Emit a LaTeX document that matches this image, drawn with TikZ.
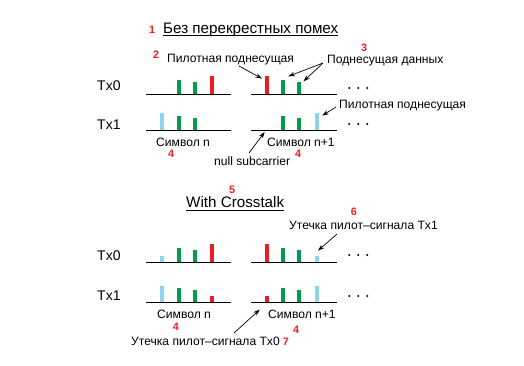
\documentclass[tikz,border=0pt]{standalone}
\usepackage{fontspec}
\setmainfont{Liberation Sans}
\usetikzlibrary{arrows.meta}
\definecolor{cred}{RGB}{237,28,36}
\definecolor{cgreen}{RGB}{0,158,72}
\definecolor{cblue}{RGB}{140,212,242}
\begin{document}
\begin{tikzpicture}[x=1pt,y=-1pt,
  barnode/.style={rectangle,draw=none,inner sep=0pt,minimum width=4.5pt,anchor=south},
  lbl/.style={font=\fontsize{12.1}{14}\selectfont,inner sep=0pt,anchor=base west},
  ttl/.style={font=\fontsize{15.2}{18}\selectfont,inner sep=0pt,anchor=base west},
  txl/.style={font=\fontsize{14}{16}\selectfont,inner sep=0pt,anchor=base west},
  num/.style={font=\fontsize{10.8}{12}\selectfont\bfseries,text=cred,inner sep=0pt,anchor=base west},
  axis/.style={line width=0.9pt},
  arr/.style={line width=0.7pt,-{Stealth[length=6.5pt,width=4.5pt]}}]
\path[use as bounding box] (0,0) rectangle (524,365);

% ---------- titles ----------
\node[num] (n1) at (149,33.3) {1};
\node[ttl] (t1) at (163,33.3) {Без перекрестных помех};
\draw[line width=0.6pt] ([yshift=-1.7pt]t1.base west) -- ([yshift=-1.7pt]t1.base east);
\node[num] (n5) at (229,193.3) {5};
\node[ttl] (t2) at (186,207.5) {With Crosstalk};
\draw[line width=0.6pt] ([yshift=-2.5pt]t2.base west) -- ([yshift=-2.5pt]t2.base east);

% ---------- Tx labels ----------
\node[txl] (tx0a) at (97,90) {Tx0};
\node[txl] (tx1a) at (97,129.5) {Tx1};
\node[txl] (tx0b) at (97,260) {Tx0};
\node[txl] (tx1b) at (97,300) {Tx1};

% ---------- axes ----------
\foreach \yy in {94,130,262,302}{
  \draw[axis] (146,\yy) -- (231,\yy);
  \draw[axis] (251,\yy) -- (337,\yy);
}
% ---------- dots ----------
\foreach \yy in {88,124,255,296}
  \foreach \xx in {349.3,358.3,367.3}
    \fill (\xx,\yy) circle (1.15pt);

% ---------- bars: upper, Tx0 ----------
\node[barnode,fill=cgreen,minimum height=14pt] (a0n2) at (179,94) {};
\node[barnode,fill=cgreen,minimum height=12pt] (a0n3) at (195,94) {};
\node[barnode,fill=cred,minimum height=18pt] (a0n4) at (212,94) {};
\node[barnode,fill=cred,minimum height=18pt] (a0m1) at (267,94) {};
\node[barnode,fill=cgreen,minimum height=14pt] (a0m2) at (283,94) {};
\node[barnode,fill=cgreen,minimum height=12pt] (a0m3) at (299,94) {};
% upper, Tx1
\node[barnode,fill=cblue,minimum height=17pt] (a1n1) at (162,130) {};
\node[barnode,fill=cgreen,minimum height=14pt] (a1n2) at (179,130) {};
\node[barnode,fill=cgreen,minimum height=12pt] (a1n3) at (195,130) {};
\node[barnode,fill=cgreen,minimum height=14pt] (a1m2) at (283,130) {};
\node[barnode,fill=cgreen,minimum height=12pt] (a1m3) at (299,130) {};
\node[barnode,fill=cblue,minimum height=17pt] (a1m4) at (317,130) {};
\coordinate (nullsc) at (267,130);

% ---------- bars: lower, Tx0 ----------
\node[barnode,fill=cblue,minimum height=6pt] (b0n1) at (162,262) {};
\node[barnode,fill=cgreen,minimum height=14pt] (b0n2) at (179,262) {};
\node[barnode,fill=cgreen,minimum height=12pt] (b0n3) at (195,262) {};
\node[barnode,fill=cred,minimum height=18pt] (b0n4) at (212,262) {};
\node[barnode,fill=cred,minimum height=18pt] (b0m1) at (267,262) {};
\node[barnode,fill=cgreen,minimum height=14pt] (b0m2) at (283,262) {};
\node[barnode,fill=cgreen,minimum height=12pt] (b0m3) at (299,262) {};
\node[barnode,fill=cblue,minimum height=6pt] (b0m4) at (317,262) {};
% lower, Tx1
\node[barnode,fill=cblue,minimum height=16pt] (b1n1) at (162,302) {};
\node[barnode,fill=cgreen,minimum height=14pt] (b1n2) at (179,302) {};
\node[barnode,fill=cgreen,minimum height=12pt] (b1n3) at (195,302) {};
\node[barnode,fill=cred,minimum height=6pt] (b1n4) at (212,302) {};
\node[barnode,fill=cred,minimum height=6pt] (b1m1) at (267,302) {};
\node[barnode,fill=cgreen,minimum height=14pt] (b1m2) at (283,302) {};
\node[barnode,fill=cgreen,minimum height=12pt] (b1m3) at (299,302) {};
\node[barnode,fill=cblue,minimum height=16pt] (b1m4) at (317,302) {};

% ---------- upper labels ----------
\node[num] (n2) at (153,58) {2};
\node[lbl] (pilA) at (167,62.5) {Пилотная поднесущая};
\node[num] (n3) at (361,51.7) {3};
\node[lbl] (data) at (327,63) {Поднесущая данных};
\node[lbl] (pilB) at (339,108) {Пилотная поднесущая};
\node[lbl] (symA) at (156,146.7) {Символ n};
\node[lbl] (symB) at (267,146.7) {Символ n+1};
\node[num] (n4a) at (168,157.5) {4};
\node[num] (n4b) at (295,157.3) {4};
\node[lbl] (null) at (214,165) {null subcarrier};

% ---------- lower labels ----------
\node[num] (n6) at (350.7,215) {6};
\node[lbl] (leak1) at (289,229) {Утечка пилот–сигнала Tx1};
\node[lbl] (symC) at (157,318.3) {Символ n};
\node[lbl] (symD) at (268,318.3) {Символ n+1};
\node[num] (n4c) at (172.7,330.7) {4};
\node[num] (n4d) at (293,333) {4};
\node[lbl] (leak0) at (131,345) {Утечка пилот–сигнала Tx0};
\node[num] (n7) at (282.7,345) {7};

% ---------- arrows ----------
\draw[arr] ([xshift=72pt,yshift=-3.5pt]pilA.base west) -- ([xshift=-2.5pt,yshift=-3pt]a0m1.north west);
\draw[arr] ([xshift=-4pt]data.base west) -- ([xshift=3pt,yshift=3.3pt]a0m2.north east);
\draw[arr] ([xshift=-4pt]data.base west) -- ([xshift=2pt,yshift=0.3pt]a0m3.north east);
\draw[arr] ([xshift=-3pt,yshift=1pt]pilB.base west) -- ([xshift=2.8pt,yshift=-3pt]a1m4.north east);
\draw[arr] ([xshift=35pt,yshift=12pt]null.base west) -- ([xshift=-2.3pt,yshift=-2pt]nullsc);
\draw[arr] ([xshift=48pt,yshift=-5pt]leak1.base west) -- ([xshift=1pt,yshift=5pt]b0m4.north);
\draw[arr] ([xshift=103pt,yshift=12pt]leak0.base west) -- ([xshift=-4.8pt,yshift=-7.5pt]b1m1.south west);
\end{tikzpicture}
\end{document}
